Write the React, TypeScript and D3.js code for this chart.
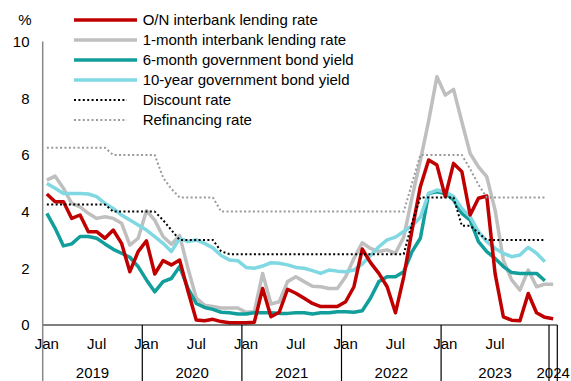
import React from 'react';
import * as d3 from 'd3';

const years = ['2019', '2020', '2021', '2022', '2023', '2024'];
const monthsInYear = [12, 12, 12, 12, 13, 1];
const tickLabels = ['Jan', 'Jul'];
const tickMonthIndex = [0, 6];
const yTicks = [0, 2, 4, 6, 8, 10];

const onRate = [4.62, 4.35, 4.35, 3.76, 3.88, 3.29, 3.29, 3.06, 3.35, 2.88, 1.88, 2.59,
  2.97, 1.8, 2.27, 2.12, 2.29, 1.2, 0.18, 0.15, 0.2, 0.12, 0.08, 0.08,
  0.08, 0.1, 1.29, 0.29, 0.45, 1.26, 1.12, 0.94, 0.76, 0.65, 0.65, 0.65,
  0.82, 1.35, 2.68, 2.2, 1.82, 1.35, 0.43, 1.7, 3.35, 4.88, 5.82, 5.64,
  4.53, 5.7, 5.41, 3.88, 4.47, 4.55, 1.82, 0.29, 0.17, 0.15, 1.11, 0.43, 0.27, 0.22];

const oneMonthRate = [5.11, 5.25, 4.82, 4.29, 4.17, 3.94, 3.76, 3.82, 3.76, 3.59, 2.82, 3.06,
  4.03, 3.7, 3.12, 2.85, 3.15, 2.0, 0.95, 0.7, 0.65, 0.6, 0.6, 0.6,
  0.45, 0.47, 1.82, 0.74, 0.82, 1.53, 1.7, 1.53, 1.37, 1.35, 1.29, 1.29,
  1.7, 2.35, 2.9, 2.7, 2.59, 2.65, 2.53, 3.1, 4.5, 5.8, 7.2, 8.76,
  8.11, 8.31, 7.17, 6.05, 5.58, 5.23, 4.06, 2.29, 1.59, 1.23, 1.94, 1.35, 1.44, 1.44];

const sixMonthYield = [3.94, 3.41, 2.79, 2.86, 3.12, 3.12, 3.06, 2.86, 2.67, 2.53, 2.39, 2.06,
  1.59, 1.17, 1.53, 1.64, 2.06, 1.29, 0.76, 0.62, 0.55, 0.45, 0.43, 0.39,
  0.39, 0.43, 0.43, 0.43, 0.41, 0.41, 0.43, 0.43, 0.39, 0.43, 0.43, 0.47,
  0.47, 0.45, 0.5, 0.95, 1.53, 1.7, 1.7, 1.88, 2.59, 3.06, 4.64, 4.7,
  4.64, 4.41, 3.94, 3.7, 2.94, 2.59, 2.35, 2.06, 1.85, 1.82, 1.82, 1.82, 1.56];

const tenYearYield = [4.99, 4.82, 4.64, 4.64, 4.64, 4.62, 4.53, 4.29, 4.11, 3.88, 3.7, 3.53,
  3.35, 3.12, 2.88, 2.59, 3.06, 2.94, 3.0, 2.88, 2.72, 2.45, 2.29, 2.27,
  2.03, 2.0, 2.08, 2.2, 2.18, 2.12, 2.03, 2.0, 1.92, 1.82, 1.94, 1.9,
  1.88, 1.94, 2.15, 2.45, 2.76, 3.0, 3.1, 3.3, 3.5, 3.8, 4.64, 4.76,
  4.7, 4.53, 4.11, 3.82, 3.29, 2.94, 2.7, 2.53, 2.41, 2.47, 2.74, 2.53, 2.23];

const discountRate = [4.25, 4.25, 4.25, 4.25, 4.25, 4.25, 4.25, 4.25, 4.0, 4.0, 4.0, 4.0,
  4.0, 4.0, 3.7, 3.35, 3.0, 3.0, 3.0, 3.0, 3.0, 2.6, 2.5, 2.5,
  2.5, 2.5, 2.5, 2.5, 2.5, 2.5, 2.5, 2.5, 2.5, 2.5, 2.5, 2.5,
  2.5, 2.5, 2.5, 2.5, 2.5, 2.5, 2.5, 2.5, 3.6, 4.5, 4.5, 4.5,
  4.5, 4.5, 3.5, 3.5, 3.25, 3.0, 3.0, 3.0, 3.0, 3.0, 3.0, 3.0, 3.0];

const refinancingRate = [6.25, 6.25, 6.25, 6.25, 6.25, 6.25, 6.25, 6.25, 6.0, 6.0, 6.0, 6.0,
  6.0, 6.0, 5.2, 4.8, 4.5, 4.5, 4.5, 4.5, 4.5, 4.0, 4.0, 4.0,
  4.0, 4.0, 4.0, 4.0, 4.0, 4.0, 4.0, 4.0, 4.0, 4.0, 4.0, 4.0,
  4.0, 4.0, 4.0, 4.0, 4.0, 4.0, 4.0, 4.0, 5.0, 6.0, 6.0, 6.0,
  6.0, 6.0, 6.0, 5.5, 4.95, 4.5, 4.5, 4.5, 4.5, 4.5, 4.5, 4.5, 4.5];

const seriesNames = [
  'O/N interbank lending rate',
  '1-month interbank lending rate',
  '6-month government bond yield',
  '10-year government bond yield',
  'Discount rate',
  'Refinancing rate',
];

const FONT = '"Liberation Sans", Arial, sans-serif';

export default function App() {
  const width = 571;
  const height = 381;
  const xLeft = 42.7;
  const xRight = 557.3;
  const yZero = 325;
  const yTen = 41.5;

  const categories: { year: string; m: number; key: string }[] = [];
  years.forEach((yr, yi) => {
    for (let m = 0; m < monthsInYear[yi]; m++) categories.push({ year: yr, m, key: `${yr}-${m}` });
  });

  const x = d3.scaleBand<string>().domain(categories.map((c) => c.key)).range([xLeft, xRight]).padding(0);
  const bw = x.bandwidth();
  const cx = (i: number) => (x(categories[i].key) as number) + bw / 2;
  const y = d3.scaleLinear().domain([0, 10]).range([yZero, yTen]);

  const line = d3.line<number>().x((_, i) => cx(i)).y((d) => y(d));

  const styles = [
    { data: onRate, color: '#C00000', width: 3.5, dash: null as string | null },
    { data: oneMonthRate, color: '#BFBFBF', width: 3.5, dash: null },
    { data: sixMonthYield, color: '#129E9B', width: 3.5, dash: null },
    { data: tenYearYield, color: '#7FD8E2', width: 3.5, dash: null },
    { data: discountRate, color: '#000000', width: 2, dash: '2 2.4' },
    { data: refinancingRate, color: '#9A9A9A', width: 2, dash: '2 2.4' },
  ];
  const drawOrder = [1, 2, 3, 0, 4, 5];

  const yearStarts = years.map((yr) => categories.findIndex((c) => c.year === yr));

  return (
    <svg width={width} height={height} style={{ position: 'absolute', left: 0, top: 0 }} fontFamily={FONT}>
      <rect width={width} height={height} fill="#fff" />
      {/* y labels */}
      {yTicks.map((t) => (
        <text key={t} x={29.5} y={y(t) + 5.4} fontSize={15} textAnchor="end" fill="#000">
          {t}
        </text>
      ))}
      <text x={25} y={25} fontSize={15} textAnchor="middle" fill="#000">%</text>

      {/* series */}
      {drawOrder.map((k) => {
        const s = styles[k];
        return (
          <path
            key={k}
            d={line(s.data) as string}
            fill="none"
            stroke={s.color}
            strokeWidth={s.width}
            strokeDasharray={s.dash ?? undefined}
            strokeLinejoin="round"
          />
        );
      })}

      {/* axes */}
      <line x1={xLeft} x2={xRight} y1={yZero} y2={yZero} stroke="#000" strokeWidth={1.2} />
      {yearStarts.slice(1).map((si, k) => (
        <line key={k} x1={x(categories[si].key)} x2={x(categories[si].key)} y1={yZero} y2={height} stroke="#000" strokeWidth={1.2} />
      ))}
      <line x1={xRight} x2={xRight} y1={yZero} y2={height} stroke="#000" strokeWidth={1.2} />
      <line x1={xLeft} x2={xLeft} y1={yTen} y2={height} stroke="#888" strokeWidth={1.5} />

      {/* month tick labels */}
      {years.map((yr, yi) =>
        tickLabels.map((lab, li) => {
          const mi = tickMonthIndex[li];
          if (monthsInYear[yi] <= 1 || mi >= monthsInYear[yi]) return null;
          const idx = yearStarts[yi] + mi;
          return (
            <text key={`${yr}-${lab}`} x={cx(idx)} y={349} fontSize={15} textAnchor="middle" fill="#000">
              {lab}
            </text>
          );
        })
      )}
      {/* year labels */}
      {years.map((yr, yi) => {
        const a = x(categories[yearStarts[yi]].key) as number;
        const b = yi + 1 < years.length ? (x(categories[yearStarts[yi + 1]].key) as number) : xRight;
        return (
          <text key={yr} x={(a + b) / 2} y={378.3} fontSize={15} textAnchor="middle" fill="#000">
            {yr}
          </text>
        );
      })}

      {/* legend */}
      {seriesNames.map((name, k) => {
        const s = styles[k];
        const ly = 20 + k * 20;
        return (
          <g key={name}>
            <line
              x1={74}
              x2={s.dash ? 127 : 137}
              y1={ly}
              y2={ly}
              stroke={s.color}
              strokeWidth={s.width}
              strokeDasharray={s.dash ?? undefined}
            />
            <text x={142.7} y={ly + 5.4} fontSize={15} fill="#000">
              {name}
            </text>
          </g>
        );
      })}
    </svg>
  );
}
